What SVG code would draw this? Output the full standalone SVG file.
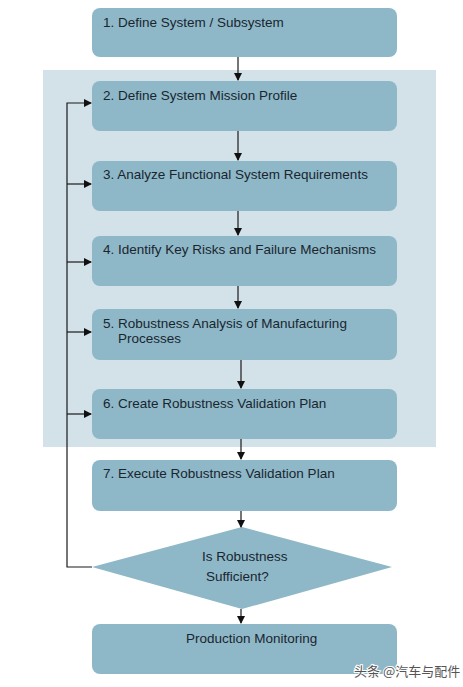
<svg xmlns="http://www.w3.org/2000/svg" width="463" height="687" viewBox="0 0 463 687">
<style>
.box{fill:#8eb8c7;}
.t{font-family:"Liberation Sans",Arial,sans-serif;font-size:13.5px;fill:#1a2530;}
.ln{stroke:#1a1a1a;stroke-width:1.2;fill:none;}
.wm{font-family:"Noto Sans CJK SC","Liberation Sans",sans-serif;font-size:13px;fill:#555;stroke:#fff;stroke-width:2;paint-order:stroke;}
</style>
<defs>
<marker id="ah" markerWidth="8" markerHeight="8" refX="7" refY="4" orient="auto" markerUnits="userSpaceOnUse">
<path d="M0,0 L8,4 L0,8 Z" fill="#111"/>
</marker>
</defs>
<rect width="463" height="687" fill="#fff"/>
<rect id="panel" x="43" y="70" width="393" height="377" fill="#d3e1e8"/>
<g id="n1"><rect class="box" x="92" y="8" width="305" height="49" rx="8"/><text class="t" x="103" y="27">1. Define System / Subsystem</text></g>
<g id="n2"><rect class="box" x="92" y="81" width="305" height="50" rx="8"/><text class="t" x="103" y="100">2. Define System Mission Profile</text></g>
<g id="n3"><rect class="box" x="92" y="161" width="305" height="50" rx="8"/><text class="t" x="103" y="179">3. Analyze Functional System Requirements</text></g>
<g id="n4"><rect class="box" x="92" y="236" width="305" height="50" rx="8"/><text class="t" x="103" y="254">4. Identify Key Risks and Failure Mechanisms</text></g>
<g id="n5"><rect class="box" x="92" y="309" width="305" height="51" rx="8"/><text class="t" x="103" y="328">5. Robustness Analysis of Manufacturing</text><text class="t" x="118" y="343">Processes</text></g>
<g id="n6"><rect class="box" x="92" y="389" width="305" height="50" rx="8"/><text class="t" x="103" y="408">6. Create Robustness Validation Plan</text></g>
<g id="n7"><rect class="box" x="92" y="460" width="305" height="51" rx="8"/><text class="t" x="103" y="478">7. Execute Robustness Validation Plan</text></g>
<g id="d"><polygon class="box" points="242,527 392,567 242,609 92,567"/><text class="t" x="202" y="561">Is Robustness</text><text class="t" x="206" y="581">Sufficient?</text></g>
<g id="n8"><rect class="box" x="92" y="624" width="305" height="50" rx="8"/><text class="t" x="186" y="643">Production Monitoring</text></g>
<g id="edges">
<line class="ln" x1="238" y1="57" x2="238" y2="80" marker-end="url(#ah)"/>
<line class="ln" x1="238" y1="131" x2="238" y2="160" marker-end="url(#ah)"/>
<line class="ln" x1="238" y1="211" x2="238" y2="235" marker-end="url(#ah)"/>
<line class="ln" x1="238" y1="286" x2="238" y2="308" marker-end="url(#ah)"/>
<line class="ln" x1="241" y1="360" x2="241" y2="388" marker-end="url(#ah)"/>
<line class="ln" x1="241" y1="439" x2="241" y2="459" marker-end="url(#ah)"/>
<line class="ln" x1="241" y1="511" x2="241" y2="527" marker-end="url(#ah)"/>
<line class="ln" x1="241" y1="609" x2="241" y2="623" marker-end="url(#ah)"/>
<polyline class="ln" points="92,567 67,567 67,103 91,103" marker-end="url(#ah)"/>
<line class="ln" x1="67" y1="184" x2="91" y2="184" marker-end="url(#ah)"/>
<line class="ln" x1="67" y1="262" x2="91" y2="262" marker-end="url(#ah)"/>
<line class="ln" x1="67" y1="332" x2="91" y2="332" marker-end="url(#ah)"/>
<line class="ln" x1="67" y1="414" x2="91" y2="414" marker-end="url(#ah)"/>
</g>
<text class="wm" x="354" y="676">头条 @汽车与配件</text>
</svg>
